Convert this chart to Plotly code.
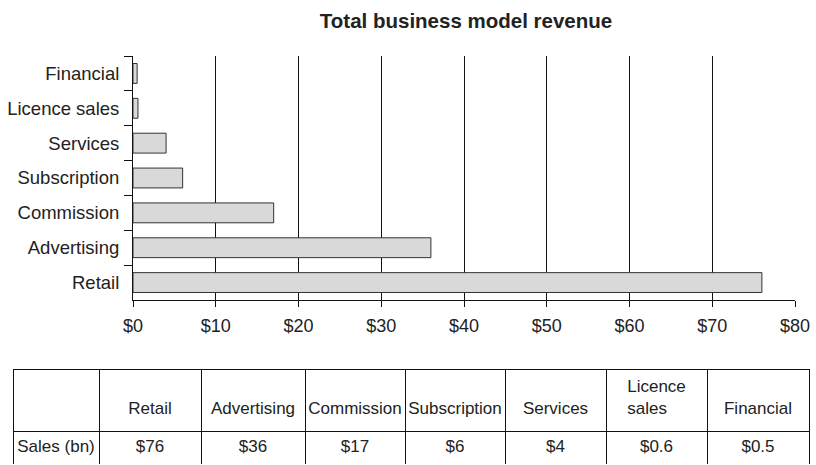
import plotly.graph_objects as go

# Revenue by business model (US$ bn)
categories = ["Retail", "Advertising", "Commission", "Subscription",
              "Services", "Licence sales", "Financial"]
sales_bn = [76, 36, 17, 6, 4, 0.6, 0.5]
sales_labels = ["$76", "$36", "$17", "$6", "$4", "$0.6", "$0.5"]
table_headers = ["", "Retail", "Advertising", "Commission", "Subscription",
                 "Services", "Licence<br>sales", "Financial"]
row_label = "Sales\u00a0(bn)"

W, H = 816, 465
FONT = "Liberation Sans, Arial, sans-serif"
TEXT = "#222222"


def pad_header(txt):
    # plotly tables have no vertical alignment, push one-line headers down a line
    return txt if "<br>" in txt or txt == "" else "\u00a0<br>" + txt


fig = go.Figure()

fig.add_trace(go.Bar(
    x=sales_bn,
    y=categories,
    orientation="h",
    marker=dict(color="#d9d9d9", line=dict(color="#333333", width=1)),
    showlegend=False,
    hoverinfo="x+y",
))

# data table under the chart
col_widths = [86, 102, 104, 100, 100, 101, 101, 102]
fig.add_trace(go.Table(
    domain=dict(x=[13 / W, 809 / W], y=[0, 1 - 369 / H]),
    columnwidth=col_widths,
    header=dict(
        values=[pad_header(h) for h in table_headers],
        align="center",
        height=62,
        line=dict(color="#111111", width=1),
        fill=dict(color="white"),
        font=dict(family=FONT, size=17, color=TEXT),
    ),
    cells=dict(
        values=[[row_label]] + [[s] for s in sales_labels],
        align="center",
        height=33,
        line=dict(color="#111111", width=1),
        fill=dict(color="white"),
        font=dict(family=FONT, size=17, color=TEXT),
    ),
))

fig.update_layout(
    width=W,
    height=H,
    margin=dict(l=0, r=0, t=0, b=0),
    paper_bgcolor="white",
    plot_bgcolor="white",
    font=dict(family=FONT, size=18, color=TEXT),
    bargap=0.43,
    title=dict(
        text="<b>Total business model revenue</b>",
        x=466 / W, xanchor="center",
        y=1 - 21 / H, yanchor="middle",
        font=dict(family=FONT, size=20.5, color=TEXT),
    ),
    xaxis=dict(
        domain=[133 / W, 795 / W],
        range=[0, 80],
        dtick=10,
        tickprefix="$",
        showgrid=True,
        gridcolor="#111111",
        gridwidth=1,
        zeroline=False,
        showline=True,
        linecolor="#111111",
        linewidth=1,
        ticks="outside",
        ticklen=6,
        tickcolor="#111111",
        tickfont=dict(size=18),
        ticklabelstandoff=3,
        automargin=False,
        fixedrange=True,
    ),
    yaxis=dict(
        domain=[1 - 300 / H, 1 - 56 / H],
        range=[-0.5, 6.5],
        showline=True,
        linecolor="#111111",
        linewidth=1,
        ticks="outside",
        tickson="boundaries",
        ticklen=8,
        tickcolor="#111111",
        showgrid=False,
        tickfont=dict(size=18.5),
        ticklabelstandoff=9,
        automargin=False,
        fixedrange=True,
    ),
)

# the page's default body margin would shift the figure by 8px
fig.write_html(
    "out.html",
    config={"displayModeBar": False},
    post_script="document.body.style.margin = '0px';",
)
